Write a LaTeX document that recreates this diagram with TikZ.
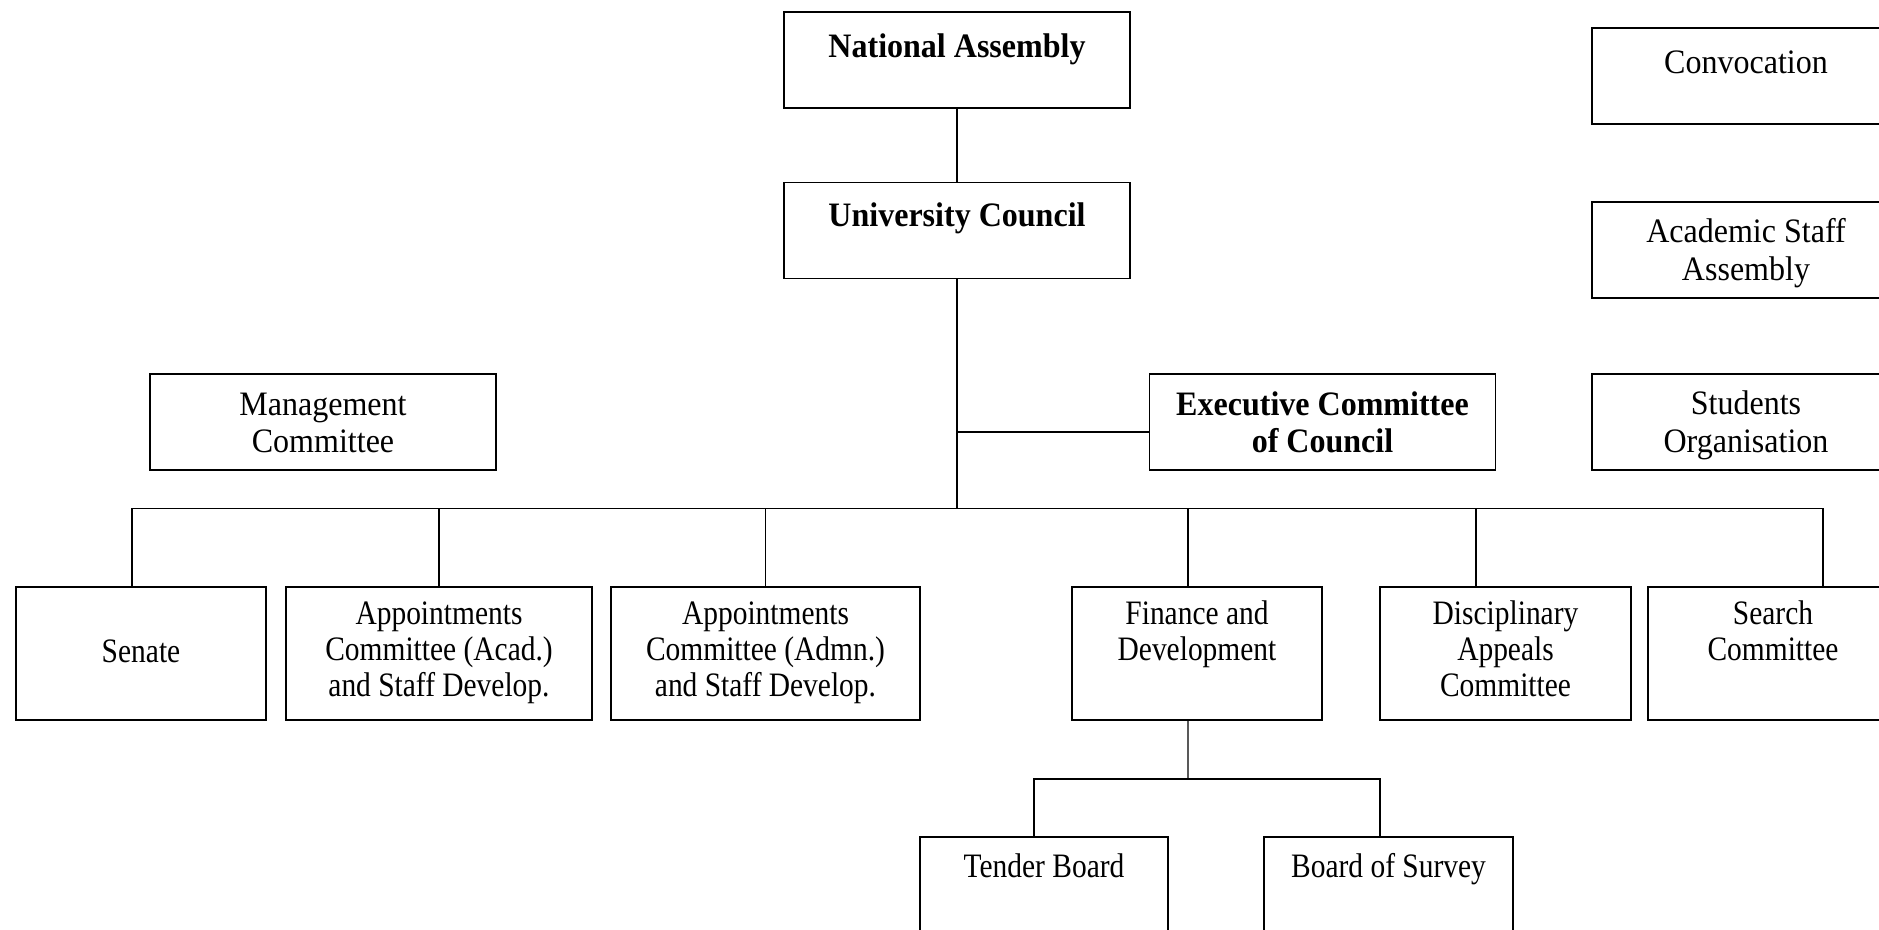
\documentclass[tikz,border=0pt]{standalone}
\usepackage{fontspec}
\setmainfont{Liberation Serif}
\newfontfamily\topfont[FakeStretch=0.935]{Liberation Serif}
\newfontfamily\rowfont[FakeStretch=0.86]{Liberation Serif}

\begin{document}
\begin{tikzpicture}[
  x=0.4pt,
  y=-0.4pt,
  orgbox/.style n args={3}{
  	draw,
  	line width=.55pt,
  	inner sep=0pt,
  	execute at begin node={\begin{minipage}[c][#2][t]{#1}\centering\vspace*{#3}\strut},
  	execute at end node={\end{minipage}}
  },
  topbox/.style={orgbox={138.4pt}{38.4pt}{#1},font=\topfont\fontsize{13.7}{15}\selectfont},
  sidebox/.style={orgbox={123.2pt}{38.4pt}{#1},font=\topfont\fontsize{13.7}{15}\selectfont},
  rowbox/.style 2 args={orgbox={#1}{53.2pt}{#2},font=\rowfont\fontsize{13.7}{14.4}\selectfont},
  link/.style={
  	line width=.55pt
  }
  ]
  \clip (0,0) rectangle (1879,930);

  \node[topbox=7.6pt] (na) at (957,60) {\textbf{National Assembly}};
  \node[topbox=7.3pt] (uc) at (957,230.5) {\textbf{University Council}};
  \node[topbox=6.1pt] (mgmt) at (323,422) {Management\\Committee};
  \node[topbox=6.1pt] (exec) at (1322.5,422) {\bfseries Executive Committee\\of Council};

  \foreach \n/\y/\off/\txt in {conv/76/7.6pt/Convocation,acad/250/5.8pt/Academic Staff\\Assembly,stud/422/5.8pt/Students\\Organisation}
  \node[sidebox=\off] (\n) at (1746,\y) {\txt};

  \foreach \n/\x/\w/\off/\txt in {senate/141/100pt/20.1pt/Senate,appacad/439/122.4pt/5.1pt/Appointments\\Committee (Acad.)\\and Staff Develop.,appadmn/765.5/123.6pt/5.1pt/Appointments\\Committee (Admn.)\\and Staff Develop.,finance/1197/100pt/5.1pt/Finance and\\Development,disc/1505.5/100.4pt/5.1pt/Disciplinary\\Appeals\\Committee,search/1773/100pt/5.1pt/Search\\Committee}
  \node[rowbox={\w}{\off}] (\n) at (\x,653.5) {\txt};

  \node[rowbox={99.2pt}{6pt}] (tender) at (1044,903.5) {Tender Board};
  \node[rowbox={99.6pt}{6pt}] (survey) at (1388.5,903.5) {Board of Survey};

  % council tree
  \coordinate (bus) at (957,508.5);
  \coordinate (subbus) at (1188,779);
  \coordinate (exec-in) at ([yshift=-4pt]exec.west);
  \foreach \n/\s in {senate/-3.6pt,appacad/0pt,appadmn/0pt,finance/-3.6pt,disc/-11.8pt,search/20pt}
  \coordinate (\n-top) at ([xshift=\s]\n.north);
  \coordinate (finance-bot) at ([xshift=-3.6pt]finance.south);
  \coordinate (tender-top) at ([xshift=-4pt]tender.north);
  \coordinate (survey-top) at ([xshift=-3.4pt]survey.north);

  \draw[link] (na) -- (uc);
  \draw[link] (uc) -- (bus);
  \draw[link] (exec-in) -- (exec-in -| bus);
  \draw[link] (senate-top) |- (bus) -| (search-top);
  \foreach \n in {appacad,appadmn,finance,disc}
  \draw[link] (\n-top) -- (\n-top |- bus);

  % finance sub-boards
  \draw[link] (finance-bot) -- (subbus);
  \draw[link] (tender-top) |- (subbus) -| (survey-top);

\end{tikzpicture}
\end{document}
